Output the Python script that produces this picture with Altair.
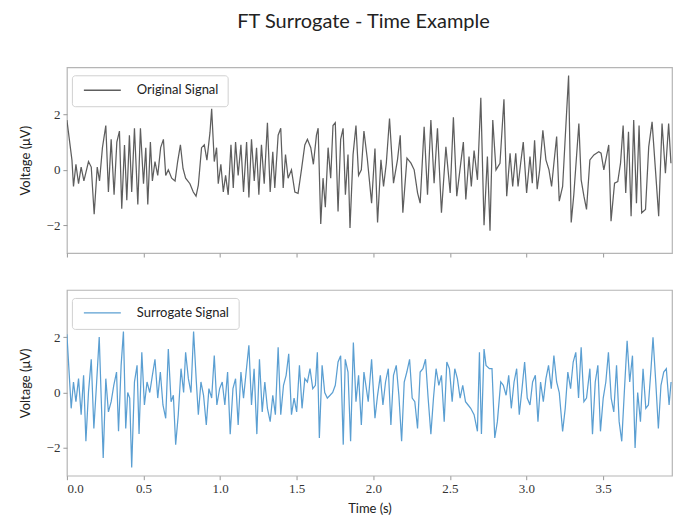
import altair as alt
import pandas as pd

# ---- data (time in s, voltage in µV) ----
orig_t = [0.000, 0.033, 0.043, 0.059, 0.076, 0.093, 0.111, 0.141, 0.159, 0.178,
          0.198, 0.213, 0.232, 0.254, 0.271, 0.289, 0.308, 0.326, 0.343, 0.358,
          0.376, 0.391, 0.408, 0.423, 0.441, 0.463, 0.480, 0.500, 0.515, 0.528,
          0.545, 0.558, 0.575, 0.593, 0.612, 0.630, 0.645, 0.662, 0.684, 0.706,
          0.723, 0.741, 0.758, 0.775, 0.803, 0.825, 0.843, 0.858, 0.879, 0.897,
          0.914, 0.934, 0.945, 0.962, 0.977, 0.988, 1.005, 1.021, 1.036, 1.053,
          1.071, 1.086, 1.101, 1.118, 1.136, 1.153, 1.173, 1.188, 1.205, 1.223,
          1.238, 1.253, 1.270, 1.288, 1.309, 1.327, 1.344, 1.357, 1.379, 1.396,
          1.412, 1.427, 1.444, 1.466, 1.488, 1.509, 1.531, 1.553, 1.570, 1.592,
          1.609, 1.629, 1.640, 1.657, 1.672, 1.687, 1.705, 1.722, 1.737, 1.752,
          1.770, 1.787, 1.803, 1.818, 1.835, 1.848, 1.868, 1.887, 1.904, 1.922,
          1.939, 1.961, 1.989, 2.011, 2.028, 2.050, 2.067, 2.085, 2.106, 2.132,
          2.158, 2.176, 2.193, 2.220, 2.246, 2.267, 2.289, 2.306, 2.332, 2.354,
          2.376, 2.397, 2.419, 2.445, 2.474, 2.502, 2.523, 2.545, 2.571, 2.588,
          2.604, 2.625, 2.640, 2.658, 2.680, 2.702, 2.723, 2.745, 2.762, 2.780,
          2.801, 2.827, 2.853, 2.871, 2.893, 2.910, 2.930, 2.945, 2.962, 2.979,
          3.001, 3.023, 3.038, 3.053, 3.070, 3.086, 3.107, 3.127, 3.147, 3.164,
          3.179, 3.197, 3.214, 3.236, 3.251, 3.275, 3.292, 3.309, 3.342, 3.357,
          3.375, 3.392, 3.414, 3.440, 3.472, 3.487, 3.505, 3.537, 3.552, 3.575,
          3.596, 3.614, 3.631, 3.648, 3.666, 3.683, 3.700, 3.718, 3.735, 3.752,
          3.777, 3.798, 3.820, 3.842, 3.863, 3.885, 3.907, 3.928, 3.943]

orig_v = [1.8, 0.35, -0.6, 0.2, -0.5, 0.1, -0.4, 0.3, 0.1, -1.6,
          0.1, -0.4, 0.8, 1.6, -0.8, 1.1, -0.9, 1.0, 1.4, -1.4,
          0.9, -1.1, 1.25, -0.8, 1.5, -1.25, 1.5, -0.5, 0.8, -1.25,
          1.0, -0.4, 0.3, -0.2, 0.8, 1.1, -0.2, 0.0, -0.3, -0.4,
          0.3, 0.9, 0.05, -0.3, -0.5, -0.8, -0.95, -0.55, 0.8, 0.9,
          0.35, 1.35, 2.2, 0.3, 0.8, -0.5, 0.2, -0.8, -0.2, -0.9,
          0.9, -0.65, 1.0, -0.2, 0.9, -0.8, 1.0, -1.0, 1.1, -0.4,
          0.8, -0.9, 0.9, -0.5, 1.7, -0.8, 0.65, -0.65, 1.25, 1.5,
          -0.65, 0.55, -0.3, 0.0, -0.8, -0.85, 0.0, 0.9, 1.1, 0.8,
          0.2, 1.25, 1.5, -1.95, -0.3, -1.35, 0.8, -0.3, 1.6, 1.7,
          -1.5, 1.1, 1.5, -0.9, 0.55, -2.1, 0.55, 1.6, -0.2, 0.0,
          1.4, 0.4, -1.2, 0.77, -1.9, 0.36, -0.6, 0.24, 1.85, -0.48,
          0.36, 1.25, -1.55, 0.42, 0.24, 0.0, -0.83, -1.2, 1.55, -0.9,
          1.8, -0.48, 1.5, -1.55, 0.83, -0.83, 1.9, -0.95, 0.24, 1.0,
          -1.07, 0.48, -0.6, 0.7, -0.36, 2.6, -2.0, 0.48, -2.2, 1.8,
          0.0, 0.24, 2.55, -0.95, 0.6, -0.6, 0.6, -0.6, 0.24, 1.0,
          -0.83, 0.48, -0.48, 1.07, -0.7, 0.0, 1.43, 0.36, 0.0, -0.6,
          0.24, 1.2, -1.13, -0.6, 0.95, 3.4, -1.9, -0.9, 1.67, -0.36,
          -0.95, -1.43, 0.36, 0.54, 0.65, 0.6, 0.0, 0.9, -1.85, -0.48,
          -0.42, 0.24, 1.6, -0.83, 1.37, -1.67, 1.8, -1.2, 1.6, -1.55,
          -1.43, 0.83, 1.73, 0.0, -1.67, 1.67, -0.12, 1.67, 0.24]

surr_t = [0.000, 0.028, 0.043, 0.059, 0.076, 0.093, 0.109, 0.124, 0.141, 0.159,
          0.176, 0.193, 0.211, 0.224, 0.237, 0.254, 0.271, 0.289, 0.306, 0.324,
          0.337, 0.354, 0.369, 0.384, 0.397, 0.410, 0.423, 0.441, 0.458, 0.471,
          0.489, 0.506, 0.523, 0.541, 0.558, 0.575, 0.593, 0.610, 0.627, 0.645,
          0.662, 0.680, 0.695, 0.710, 0.727, 0.745, 0.762, 0.775, 0.793, 0.810,
          0.827, 0.845, 0.858, 0.875, 0.892, 0.910, 0.927, 0.945, 0.962, 0.979,
          0.997, 1.014, 1.031, 1.049, 1.066, 1.084, 1.101, 1.118, 1.136, 1.153,
          1.170, 1.188, 1.205, 1.222, 1.240, 1.257, 1.275, 1.292, 1.309, 1.327,
          1.344, 1.361, 1.379, 1.396, 1.414, 1.431, 1.448, 1.466, 1.483, 1.500,
          1.518, 1.535, 1.553, 1.570, 1.587, 1.605, 1.622, 1.635, 1.648, 1.666,
          1.683, 1.700, 1.718, 1.735, 1.752, 1.770, 1.787, 1.804, 1.817, 1.835,
          1.852, 1.870, 1.887, 1.904, 1.922, 1.939, 1.967, 1.989, 2.011, 2.028,
          2.046, 2.063, 2.080, 2.098, 2.115, 2.132, 2.150, 2.167, 2.185, 2.202,
          2.219, 2.237, 2.254, 2.271, 2.289, 2.306, 2.324, 2.341, 2.358, 2.376,
          2.393, 2.410, 2.428, 2.445, 2.463, 2.480, 2.497, 2.515, 2.532, 2.549,
          2.567, 2.584, 2.602, 2.619, 2.636, 2.658, 2.680, 2.693, 2.706, 2.723,
          2.736, 2.758, 2.775, 2.793, 2.810, 2.832, 2.849, 2.867, 2.884, 2.901,
          2.919, 2.936, 2.953, 2.971, 2.988, 3.005, 3.023, 3.040, 3.058, 3.075,
          3.092, 3.110, 3.127, 3.144, 3.162, 3.179, 3.197, 3.214, 3.236, 3.253,
          3.270, 3.288, 3.305, 3.322, 3.340, 3.357, 3.375, 3.392, 3.414, 3.431,
          3.449, 3.466, 3.483, 3.501, 3.518, 3.535, 3.553, 3.570, 3.588, 3.605,
          3.622, 3.640, 3.657, 3.674, 3.692, 3.709, 3.726, 3.744, 3.761, 3.779,
          3.796, 3.813, 3.826, 3.844, 3.861, 3.878, 3.896, 3.913, 3.931, 3.944]

surr_v = [2.1, -0.57, 0.38, -0.33, 0.5, -0.8, 0.62, -1.76, 0.02, 1.2,
          -1.3, 0.26, 2.0, -0.2, -2.36, 0.5, -0.7, -0.33, 0.26, 0.74,
          -1.4, 0.98, 2.2, -1.3, 0.0, -0.2, -2.7, 0.38, 0.98, -1.5,
          1.45, -0.45, 0.38, 0.0, 0.62, 1.2, -0.2, 0.74, -0.45, -0.93,
          1.57, -0.33, -0.1, -1.88, -0.8, 0.86, 0.0, 1.45, 0.5, 0.0,
          2.2, 0.38, -0.8, 0.38, -0.1, -1.17, 0.14, -0.2, 1.33, -0.45,
          0.14, 0.38, -0.45, 0.74, -1.5, 0.14, 0.5, -1.17, 0.74, -0.2,
          0.74, 1.7, -0.45, 0.86, -1.5, 1.2, -0.7, 0.38, -0.57, -1.05,
          -0.1, -0.8, 1.63, -0.8, 0.26, 0.62, 1.4, -0.8, -0.2, -0.7,
          0.98, -0.57, 0.5, 0.38, 0.86, 0.14, 0.26, 1.45, -1.64, 0.98,
          0.0, -0.2, -0.1, 0.0, 0.26, 1.1, 1.33, -1.88, 1.2, 0.74,
          -1.76, 1.8, -0.33, 0.62, -1.17, 0.74, -0.33, 1.2, -0.93, -0.1,
          0.62, -0.45, 0.38, 0.86, -1.17, 0.62, 0.98, -0.1, -1.76, 0.38,
          0.74, 1.2, -0.2, -0.33, -1.3, 0.74, 0.86, 1.2, -0.2, -1.5,
          -0.2, 0.86, 0.26, 0.62, -1.05, 1.1, 0.86, -0.33, 0.86, 0.5,
          -0.2, 0.26, -0.33, -0.45, -0.57, -0.8, -1.4, 1.45, -1.5, 1.57,
          0.98, 0.86, 0.86, -1.64, -1.05, 0.38, 0.26, -0.1, 0.62, -0.57,
          0.38, 0.86, -0.8, 0.14, 1.1, -0.2, -0.45, 0.38, 0.62, -1.05,
          0.38, -0.33, 0.5, 0.98, 0.14, 1.33, 0.38, 0.0, -1.4, -0.57,
          0.74, 0.14, 1.1, 1.45, -0.2, 1.63, -0.33, -0.2, 0.86, -1.5,
          0.38, 0.98, -1.4, -0.2, 0.38, 1.45, -0.2, -0.7, 0.98, -1.05,
          -1.76, 0.14, 1.87, 0.38, 1.33, -2.0, 0.0, -1.05, 0.86, -0.57,
          -0.45, 0.86, 1.99, 0.38, -1.3, 0.26, 0.74, 0.86, -0.45, 0.38]

series_names = ["Original Signal", "Surrogate Signal"]
series_colors = ["#5e5e5e", "#5b9fd2"]
x_ticks = [0.0, 0.5, 1.0, 1.5, 2.0, 2.5, 3.0, 3.5]
y_ticks = [-2, 0, 2]

SERIF = "Liberation Serif"
SANS = "Lato"


def panel(times, values, name, color, bottom):
    df = pd.DataFrame({"t": times, "v": values, "series": name})
    x_axis = dict(values=x_ticks, format=".1f", tickSize=4, grid=False,
                  domain=False, tickColor="#999999", labelFont=SERIF,
                  labelFontSize=13, labelColor="#333333", labelPadding=3)
    if bottom:
        x_axis.update(title="Time (s)", titleFont=SANS, titleFontSize=13,
                      titleFontWeight="normal", titleColor="#222222",
                      titlePadding=7)
    else:
        x_axis.update(labels=False, title="")
    return alt.Chart(df).mark_line(strokeWidth=1.25, clip=True).encode(
        x=alt.X("t:Q", scale=alt.Scale(domain=[0, 3.95], nice=False, zero=False),
                axis=alt.Axis(**x_axis)),
        y=alt.Y("v:Q", scale=alt.Scale(domain=[-3.0, 3.7], nice=False, zero=False),
                axis=alt.Axis(values=y_ticks, title="Voltage (μV)", tickSize=4,
                              grid=False, domain=False, tickColor="#999999",
                              labelFont=SERIF, labelFontSize=13,
                              labelColor="#333333", labelPadding=3,
                              titleFont=SANS, titleFontSize=13,
                              titleFontWeight="normal", titleColor="#222222",
                              titlePadding=14)),
        color=alt.Color("series:N",
                        scale=alt.Scale(domain=[name], range=[color]),
                        legend=alt.Legend(orient="none", legendX=5, legendY=8,
                                          title=None, symbolType="stroke",
                                          symbolSize=1369, symbolStrokeWidth=1.3,
                                          symbolOffset=2, clipHeight=12,
                                          labelFont=SANS, labelFontSize=13,
                                          labelColor="#222222", labelOffset=15,
                                          fillColor="white", strokeColor="#d0d0d0",
                                          cornerRadius=3, padding=9)),
    ).properties(width=606, height=186)


top = panel(orig_t, orig_v, series_names[0], series_colors[0], False)
bottom = panel(surr_t, surr_v, series_names[1], series_colors[1], True)

chart = alt.vconcat(top, bottom, spacing=30).resolve_scale(
    color="independent"
).resolve_legend(color="independent").properties(
    title=alt.TitleParams("FT Surrogate - Time Example", font=SANS, fontSize=20,
                          fontWeight="normal", color="#222222", anchor="middle",
                          offset=35, dx=18),
    padding={"left": 18, "top": 11, "right": 0, "bottom": 5},
).configure_view(stroke="#b5b5b5", strokeWidth=1.2)

chart.save("out.html", embed_options={"renderer": "svg", "actions": False})
